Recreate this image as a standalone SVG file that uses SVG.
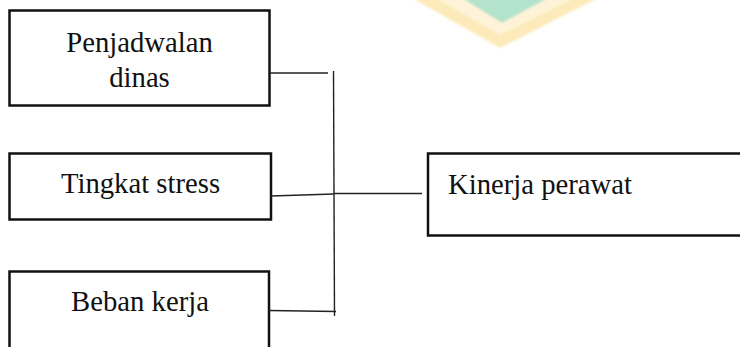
<svg xmlns="http://www.w3.org/2000/svg" width="740" height="347" viewBox="0 0 740 347">
<defs>
<filter id="soft" x="-10%" y="-10%" width="120%" height="130%"><feGaussianBlur stdDeviation="1.2"/></filter>
</defs>
<style>
.box{fill:#fff;stroke:#111;stroke-width:2.5}
.lbl{font-family:"Liberation Serif","Times New Roman",serif;font-size:28.7px;fill:#111}
.mid{text-anchor:middle}
.conn line{stroke:#222;stroke-width:1.4;fill:none}
</style>
<rect width="740" height="347" fill="#fff"/>
<g id="watermark" filter="url(#soft)" opacity="0.85">
<polygon points="412,-2 500,48 598,-2" fill="#FDE7AE"/>
<polygon points="436,-2 500,35 574,-2" fill="#FEF2D2"/>
<polygon points="462,-2 502,23 548,-2" fill="#A8DFC3"/>
</g>
<g id="penjadwalan">
<rect class="box" x="9.5" y="10.5" width="260" height="95"/>
<text class="lbl mid" x="139.5" y="51.5">Penjadwalan</text>
<text class="lbl mid" x="139.5" y="86.5">dinas</text>
</g>
<g id="stress">
<rect class="box" x="9.5" y="153.5" width="261.5" height="66"/>
<text class="lbl mid" x="140.5" y="192.5">Tingkat stress</text>
</g>
<g id="beban">
<rect class="box" x="9.5" y="271.5" width="259.5" height="80"/>
<text class="lbl mid" x="140" y="310.5">Beban kerja</text>
</g>
<g id="kinerja">
<rect class="box" x="428" y="153.5" width="320" height="82"/>
<text class="lbl" x="448" y="193.5">Kinerja perawat</text>
</g>
<g class="conn" id="connectors">
<line x1="270" y1="73" x2="328" y2="73"/>
<line x1="333.5" y1="71" x2="334.5" y2="316"/>
<line x1="271" y1="196" x2="334" y2="194"/>
<line x1="334" y1="193.5" x2="422" y2="193.5"/>
<line x1="269" y1="310.5" x2="336" y2="311.5"/>
</g>
</svg>
